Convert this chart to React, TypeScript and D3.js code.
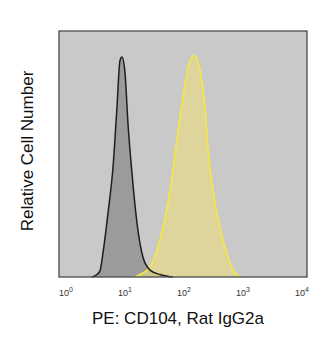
import React from "react";
import * as d3 from "d3";

// log10 fluorescence values and relative counts (0-100)
const isoLog = [0.44, 0.525, 0.576, 0.627, 0.712, 0.797, 0.864, 0.915, 0.949, 1.0, 1.05, 1.119, 1.203, 1.305, 1.424, 1.593, 1.81];
const isoCount = [0, 1, 2.5, 9.8, 26, 44.7, 69, 88, 89.4, 83, 62.6, 42, 22, 8, 2.8, 1, 0];

const cdLog = [1.17, 1.254, 1.424, 1.593, 1.763, 1.881, 1.983, 2.068, 2.169, 2.271, 2.356, 2.407, 2.492, 2.61, 2.746, 2.864, 2.966];
const cdCount = [0, 1, 4, 15, 35, 56, 73, 85, 90, 84, 69, 52, 35, 20, 8, 1.6, 0];

const decades = [0, 1, 2, 3, 4];
const xTitle = "PE: CD104, Rat IgG2a";
const yTitle = "Relative Cell Number";

export default function App() {
  const W = 328, H = 360;
  const box = { l: 59, t: 31, r: 307, b: 277 };
  const x = d3.scaleLinear().domain([0, 4]).range([66, 302]);
  const y = d3.scaleLinear().domain([0, 100]).range([box.b, box.t]);

  const mk = (xs: number[], ys: number[]) => xs.map((v, i) => [v, ys[i]] as [number, number]);
  const area = d3.area<[number, number]>().x(d => x(d[0])).y0(y(0)).y1(d => y(d[1])).curve(d3.curveMonotoneX);
  const line = d3.line<[number, number]>().x(d => x(d[0])).y(d => y(d[1])).curve(d3.curveMonotoneX);
  const iso = mk(isoLog, isoCount);
  const cd = mk(cdLog, cdCount);

  return (
    <svg width={W} height={H} style={{ position: "absolute", left: 0, top: 0, background: "#fff" }} fontFamily="Liberation Sans, Arial, sans-serif">
      <rect x={box.l} y={box.t} width={box.r - box.l} height={box.b - box.t} fill="#c9c9c9" />
      <path d={area(iso) || ""} fill="#9b9b9b" />
      <path d={area(cd) || ""} fill="#e8dc84" fillOpacity={0.65} />
      <path d={line(cd) || ""} fill="none" stroke="#f5e54a" strokeWidth={1.8} />
      <path d={line(iso) || ""} fill="none" stroke="#1e1e1e" strokeWidth={1.5} />
      <rect x={box.l} y={box.t} width={box.r - box.l} height={box.b - box.t} fill="none" stroke="#4a4a4a" strokeWidth={1.3} />
      {decades.map(d => (
        <text key={d} x={x(d)} y={296} textAnchor="middle" fontSize={9} fill="#333">
          10<tspan fontSize={7} dy={-4}>{d}</tspan>
        </text>
      ))}
      <text x={178} y={324} textAnchor="middle" fontSize={17} fill="#111">{xTitle}</text>
      <text transform={`translate(27,151) rotate(-90)`} textAnchor="middle" dy="0.35em" fontSize={17} fill="#111">{yTitle}</text>
    </svg>
  );
}
